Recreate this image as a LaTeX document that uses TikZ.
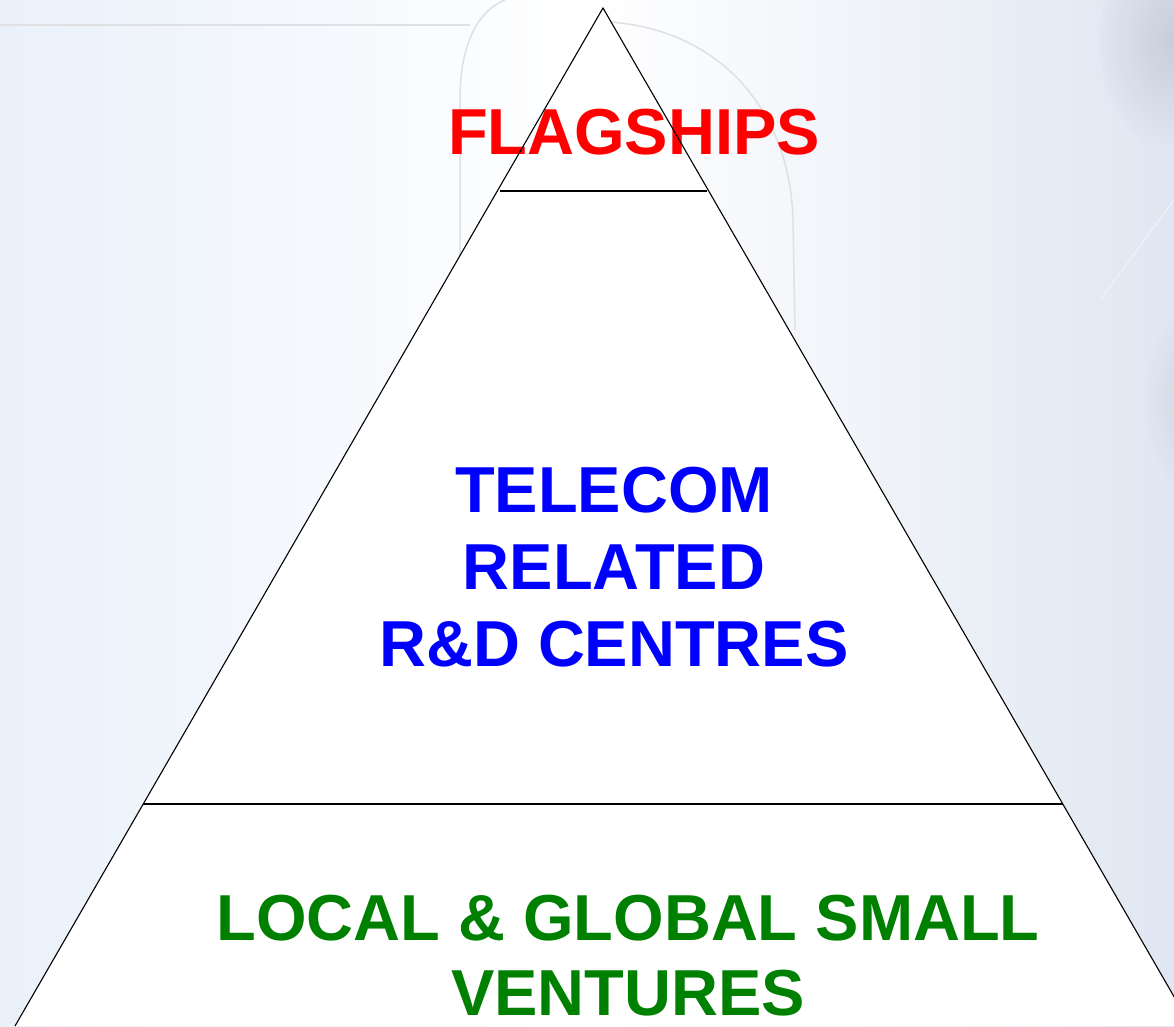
\documentclass[tikz,border=0pt]{standalone}
\usepackage{fontspec}
\setmainfont{Liberation Sans}
\usetikzlibrary{calc}
\definecolor{bgleft}{RGB}{234,241,250}
\definecolor{bgright}{RGB}{224,231,242}
\definecolor{flagred}{RGB}{255,0,0}
\definecolor{telblue}{RGB}{0,0,255}
\definecolor{vgreen}{RGB}{0,128,0}
\definecolor{photogray}{RGB}{196,202,214}
\definecolor{faintline}{RGB}{222,224,228}
\tikzset{
  edge/.style={black, line width=1.1pt},
  divider/.style={black, line width=2.4pt},
  tier/.style={font=\fontsize{65}{77}\selectfont\bfseries, inner sep=0pt, align=center, anchor=base},
}
\begin{document}
\begin{tikzpicture}[x=1pt,y=-1pt]
  \useasboundingbox (0,0) rectangle (1174,1026);
  \clip (0,0) rectangle (1174,1026);

  % soft backdrop
  \shade[left color=bgleft, right color=bgright, middle color=white] (0,0) rectangle (1174,1026);
  \shade[inner color=photogray, outer color=bgright, opacity=0.9] (1174,40) ellipse (75 and 110);
  \shade[inner color=photogray!80, outer color=bgright, opacity=0.8] (1185,400) ellipse (40 and 90);
  \draw[faintline, line width=1.5pt] (0,25) -- (470,25);
  \draw[faintline, line width=1.5pt] (460,260) -- (460,100) .. controls (460,40) and (480,10) .. (505,0);
  \draw[faintline, line width=1.5pt] (610,22) .. controls (720,30) and (790,110) .. (793,220) -- (795,330);
  \draw[bgleft!70!white, line width=1pt] (1100,300) -- (1174,200);

  % pyramid body
  \coordinate (apex) at (603,8);
  \coordinate (bl) at (15,1026);
  \coordinate (br) at (1191,1026);
  \fill[white] (apex) -- (bl) -- (br) -- cycle;

  % tier labels (base anchor sits on the last line's baseline)
  \node[tier, text=flagred] (flag) at (634,154) {FLAGSHIPS};
  \node[tier, text=telblue] (rnd) at (614,666) {TELECOM\\RELATED\\R\&D CENTRES};
  \node[tier, text=vgreen, font=\fontsize{65}{75}\selectfont\bfseries] (small) at (628,1015) {LOCAL \& GLOBAL SMALL\\VENTURES};

  % outline and tier dividers
  \draw[edge] (bl) -- (apex) -- (br);
  \coordinate (d1l) at (500,191);
  \coordinate (d1r) at (707,191);
  \coordinate (d2l) at (143,804);
  \coordinate (d2r) at (1063,804);
  \draw[divider] (d1l) -- (d1r);
  \draw[divider] (d2l) -- (d2r);
\end{tikzpicture}
\end{document}
